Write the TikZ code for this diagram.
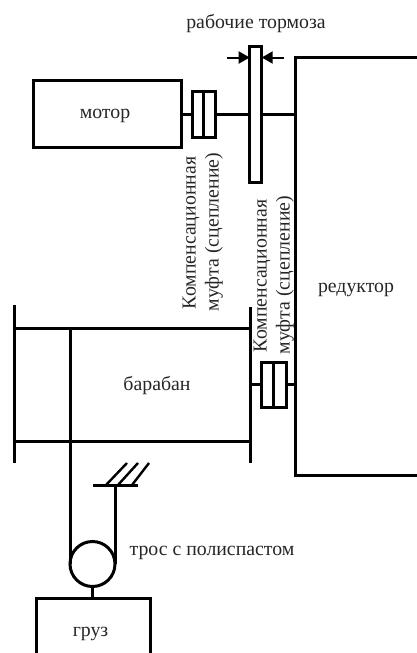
\documentclass[tikz,border=0pt]{standalone}
\usepackage{fontspec}
\setmainfont{Liberation Serif}
\usetikzlibrary{arrows.meta}
\tikzset{
 ln/.style={line width=3pt,black},
 thin ln/.style={line width=2.4pt,black},
 box/.style={draw,ln,rectangle,inner sep=0pt,outer sep=0pt,anchor=north west},
 lbl/.style={font=\fontsize{19.8}{22}\selectfont,inner sep=0pt,text=black!85},
 rlbl/.style={lbl,rotate=90},
 brake/.style={line width=2pt,-{Triangle[length=11pt,width=12pt]}}
}
\begin{document}
\begin{tikzpicture}[x=1pt,y=-1pt]
\useasboundingbox (0,0) rectangle (417,653);
% motor and first coupling
\node[box,minimum width=148pt,minimum height=67pt] (motor) at (33.5,80) {};
\node[lbl] (motorT) at (105,115.5) {мотор};
\node[box,minimum width=23pt,minimum height=46pt] (cA) at (192,91) {};
\draw[ln] (cA.north) -- (cA.south);
% brake disc
\node[box,minimum width=12pt,minimum height=136pt] (disc) at (249.7,46) {};
% reducer (open on the right)
\coordinate (rTR) at (417,57.5);
\coordinate (rTL) at (295.5,57.5);
\coordinate (rBL) at (295.5,475);
\coordinate (rBR) at (417,475);
\draw[ln] (rTR) -- (rTL) -- (rBL) -- (rBR);
\node[lbl] (redT) at (356,290) {редуктор};
% shafts
\coordinate (sR) at (295.5,114);
\draw[ln] (motor.east |- 0,114) -- (cA.west |- 0,114);
\draw[ln] (cA.east |- 0,114) -- (disc.west |- 0,114);
\draw[ln] (disc.east |- 0,114) -- (sR);
% brake arrows
\coordinate (bL) at (227,57.5);
\coordinate (bR) at (284,57.5);
\draw[brake] (bL) -- (disc.west |- bL);
\draw[brake] (bR) -- (disc.east |- bR);
\node[lbl] (brT) at (256,24) {рабочие тормоза};
% drum
\coordinate (dLt) at (14,305);
\coordinate (dLb) at (14,463);
\coordinate (dRt) at (250,307);
\coordinate (dRb) at (250,463);
\draw[ln] (dLt) -- (dLb);
\draw[ln] (dRt) -- (dRb);
\draw[ln] (14,328) coordinate (h1) -- (250,328);
\draw[ln] (14,441) -- (250,441);
\node[lbl] (drT) at (157,386) {барабан};
% second coupling
\node[box,minimum width=25pt,minimum height=45pt] (cB) at (261,362) {};
\draw[ln] (cB.north) -- (cB.south);
\draw[ln] (dRt |- cB.west) -- (cB.west);
\draw[ln] (cB.east) -- (rTL |- cB.east);
% rope, pulley, anchor
\node[draw,ln,circle,inner sep=0pt,outer sep=0pt,minimum size=45pt] (pul) at (92.5,564) {};
\coordinate (aL) at (93,485.5);
\coordinate (aR) at (138,485.5);
\draw[thin ln] (aL) -- (aR);
\draw[ln] (pul.west) -- (pul.west |- h1);
\draw[ln] (pul.east) -- (pul.east |- aL);
\draw[thin ln] (106,485) -- (127,463);
\draw[thin ln] (118,485) -- (138,463);
\draw[thin ln] (132,485) -- (149,463);
\node[lbl] (rpT) at (212,553) {трос с полиспастом};
% load (open at the bottom)
\coordinate (lTL) at (36.5,598);
\coordinate (lTR) at (150,598);
\draw[ln] (36.5,653) -- (lTL) -- (lTR) -- (150,653);
\draw[ln] (pul.south) -- (pul.south |- lTL);
\node[lbl] (grT) at (90.5,634) {груз};
% rotated labels
\node[rlbl] (k1a) at (191,233) {Компенсационная};
\node[rlbl] (k1b) at (214,232) {муфта (сцепление)};
\node[rlbl] (k2a) at (262,276) {Компенсационная};
\node[rlbl] (k2b) at (285,275) {муфта (сцепление)};
\end{tikzpicture}
\end{document}
